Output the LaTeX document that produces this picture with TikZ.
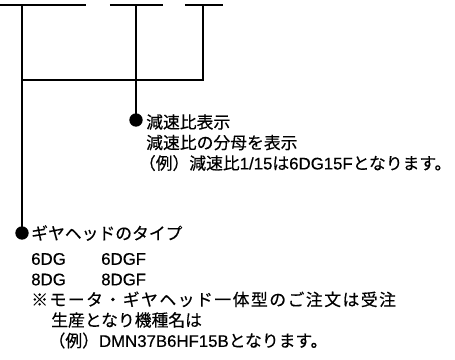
\documentclass[tikz,border=0pt]{standalone}
\usepackage{fontspec}
\setmainfont[FakeBold=0.4]{Noto Sans CJK JP}
\newfontfamily\latinfont[FakeBold=0.4]{Liberation Sans}
\newcommand{\lat}[1]{{\latinfont #1}}
\usetikzlibrary{positioning}

\begin{document}
\begin{tikzpicture} [
		x=0.75pt, y=-0.75pt,
		dot/.style  = { circle, fill=black, inner sep=0pt, minimum size=10pt },
		note/.style = { inner sep=0pt, anchor=north west, align=left,
			font=\fontsize{12.6}{15.4}\selectfont },
		line/.style = { draw, line width=1pt },
	]
	\useasboundingbox (0,0) rectangle (455,360);
	% top bars and junction points
	\coordinate (barAl) at (0,5);   \coordinate (barAr) at (86,5);
	\coordinate (barBl) at (110,5); \coordinate (barBr) at (163,5);
	\coordinate (barCl) at (185,5); \coordinate (barCr) at (223,5);
	\coordinate (topA) at (22,5);  \coordinate (topB) at (136,5);  \coordinate (topC) at (203,5);
	\coordinate (joinA) at (22,80); \coordinate (joinC) at (203,80);
	% Define nodes
	\begin{scope}
		\node [dot] (ratioDot) at (136,120) {};
		\node [note] (ratio) at (146,114)
			{減速比表示\\減速比の分母を表示\\\hspace*{-5.5pt}（例）減速比\lat{1/15}は\lat{6DG15F}となります。};
		\node [dot] (gearDot) at (22,233) {};
		\node [note] (gear) at (31,225)
			{ギヤヘッドのタイプ\\[3.5pt]
			\makebox[52.5pt][l]{\lat{6DG}}\lat{6DGF}\\
			\makebox[52.5pt][l]{\lat{8DG}}\lat{8DGF}\\
			{\addfontfeature{LetterSpace=9}※モータ・ギヤヘッド一体型のご注文は受注}\\
			\hspace*{15pt}生産となり機種名は\\
			\hspace*{13pt}（例）\lat{DMN37B6HF15B}となります。};
	\end{scope}
	% connect all nodes defined above
	\begin{scope} [every path/.style=line]
		\path (barAl) -- (barAr);
		\path (barBl) -- (barBr);
		\path (barCl) -- (barCr);
		\path (topA) -- (gearDot.center);
		\path (topB) -- (ratioDot.center);
		\path (topC) -- (joinC) -- (joinA);
	\end{scope}
\end{tikzpicture}
\end{document}
